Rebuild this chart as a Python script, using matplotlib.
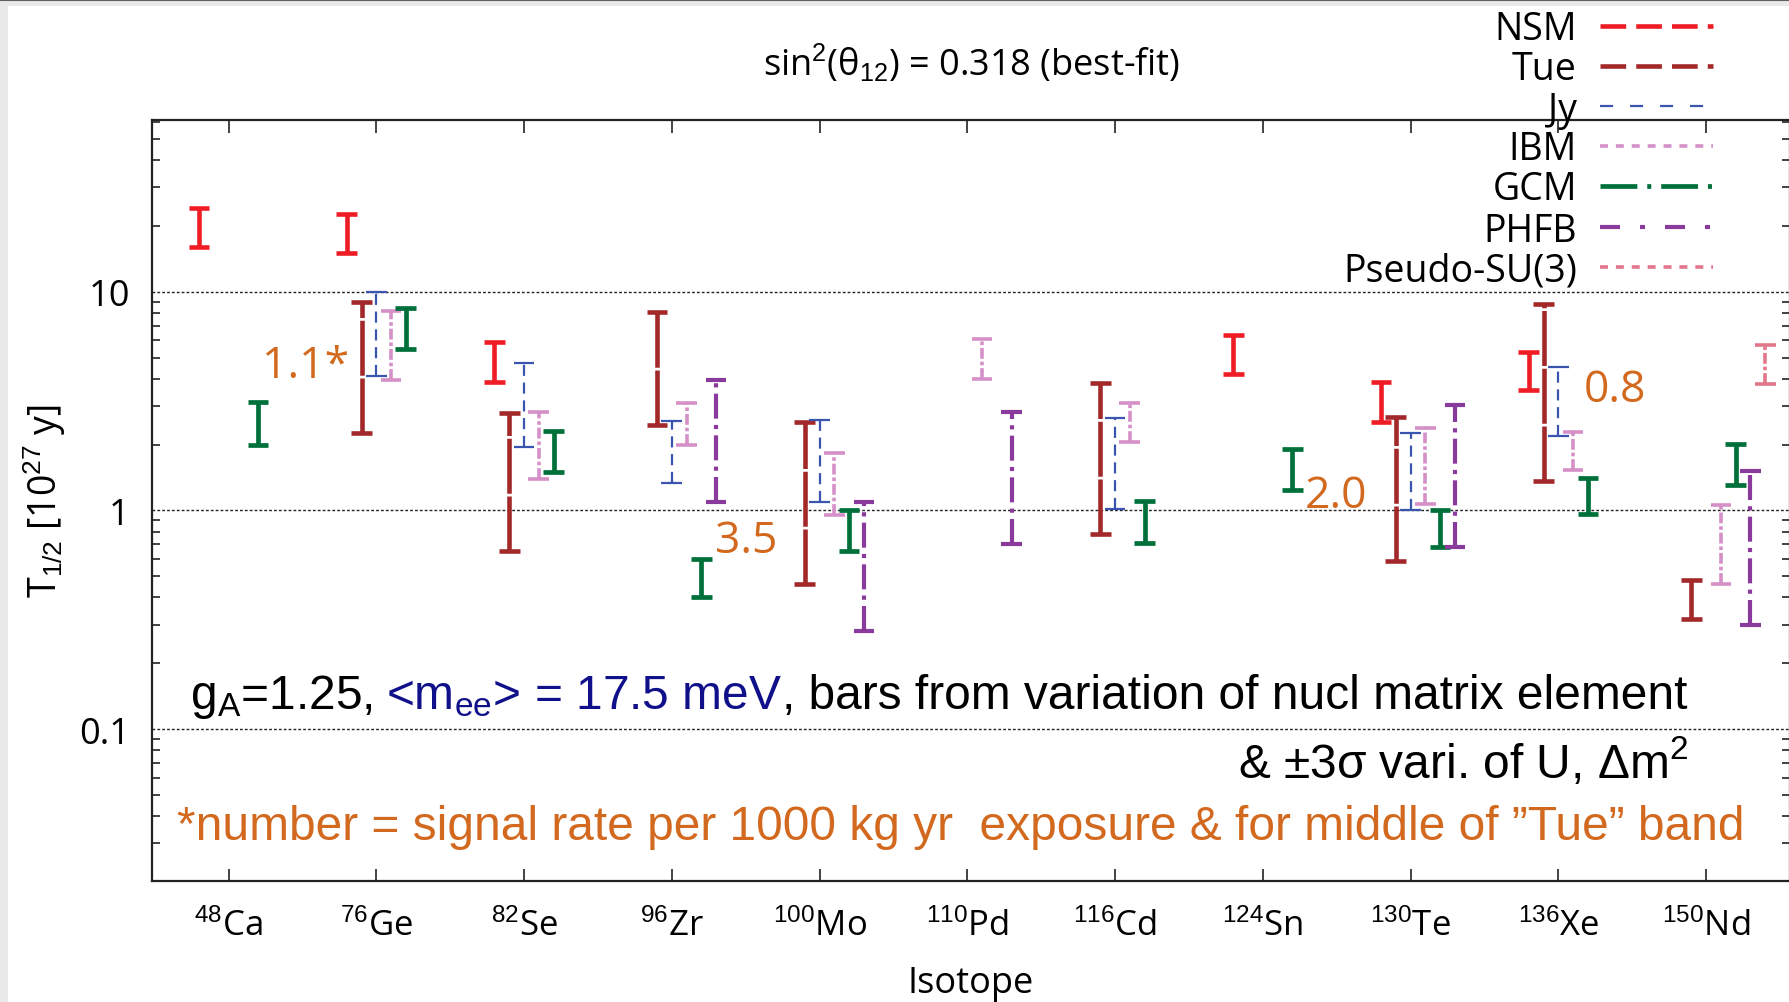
import numpy as np
import matplotlib.pyplot as plt
from matplotlib.lines import Line2D
from matplotlib.patches import Rectangle

plt.rcParams['font.family'] = ['Open Sans', 'DejaVu Sans']
plt.rcParams['mathtext.fontset'] = 'custom'
plt.rcParams['mathtext.rm'] = 'Liberation Sans'
plt.rcParams['mathtext.it'] = 'Liberation Sans'
plt.rcParams['mathtext.bf'] = 'Liberation Sans:bold'

nan = np.nan
isotopes = ['$^{48}$Ca', '$^{76}$Ge', '$^{82}$Se', '$^{96}$Zr', '$^{100}$Mo', '$^{110}$Pd',
            '$^{116}$Cd', '$^{124}$Sn', '$^{130}$Te', '$^{136}$Xe', '$^{150}$Nd']

# half-life ranges, 10^27 y (low, high) per isotope
nsm_lo = [16.0, 15.0, 3.85, nan, nan, nan, nan, 4.2, 2.54, 3.55, nan]
nsm_hi = [24.2, 22.6, 5.9, nan, nan, nan, nan, 6.33, 3.87, 5.31, nan]
tue_lo = [nan, 2.25, 0.65, 2.45, 0.46, nan, 0.78, nan, 0.59, 1.36, 0.32]
tue_hi = [nan, 9.0, 2.78, 8.1, 2.53, nan, 3.81, nan, 2.68, 8.75, 0.48]
jy_lo = [nan, 4.1, 1.96, 1.34, 1.09, nan, 1.02, nan, 1.0, 2.19, nan]
jy_hi = [nan, 10.0, 4.7, 2.57, 2.6, nan, 2.66, nan, 2.25, 4.51, nan]
ibm_lo = [nan, 3.94, 1.39, 2.0, 0.95, 4.0, 2.06, nan, 1.07, 1.53, 0.46]
ibm_hi = [nan, 8.2, 2.82, 3.1, 1.83, 6.07, 3.09, nan, 2.37, 2.29, 1.06]
gcm_lo = [2.0, 5.5, 1.5, 0.40, 0.65, nan, 0.71, 1.24, 0.68, 0.96, 1.31]
gcm_hi = [3.14, 8.4, 2.3, 0.60, 1.0, nan, 1.1, 1.91, 1.0, 1.40, 2.01]
phfb_lo = [nan, nan, nan, 1.09, 0.28, 0.70, nan, nan, 0.68, nan, 0.30]
phfb_hi = [nan, nan, nan, 3.94, 1.09, 2.82, nan, nan, 3.03, nan, 1.52]
psu3_lo = [nan, nan, nan, nan, nan, nan, nan, nan, nan, nan, 3.78]
psu3_hi = [nan, nan, nan, nan, nan, nan, nan, nan, nan, nan, 5.7]

# signal rates printed next to the Tue bands
rate_labels = ['1.1*', '3.5', '2.0', '0.8']
rate_x = [1.227, 4.29, 8.286, 10.174]
rate_y = [4.07, 0.645, 1.035, 3.17]

models = [
    # name, lo, hi, offset, color, lw, bar dashes, legend dashes
    ('NSM', nsm_lo, nsm_hi, -0.2, '#ee1c25', 3.3, (0, (12, 0.6)), (0, (5.6, 2.2))),
    ('Tue', tue_lo, tue_hi, -0.1, '#a3282a', 3.3, (0, (12, 0.6)), (0, (5.6, 2.2))),
    ('Jy', jy_lo, jy_hi, 0.0, '#3a55b0', 1.6, (0, (5, 3)), (0, (5.9, 7.6))),
    ('IBM', ibm_lo, ibm_hi, 0.1, '#d690c8', 2.6, (0, (3, 0.8, 1, 0.8)), (0, (2.2, 2.2))),
    ('GCM', gcm_lo, gcm_hi, 0.2, '#00703a', 3.4, '-', (0, (7.8, 2.1, 0.85, 2.1))),
    ('PHFB', phfb_lo, phfb_hi, 0.3, '#8a3a9c', 3.0, (0, (6, 1.5, 1, 1.5)), (0, (4.8, 4.8, 1.2, 4.8))),
    ('Pseudo-SU(3)', psu3_lo, psu3_hi, 0.4, '#e2768a', 2.6, (0, (3, 0.8, 1, 0.8)), (0, (2.2, 2.2))),
]

fig = plt.figure(figsize=(17.9, 10.03), dpi=100)
fig.patch.set_facecolor('#e9e9e9')
fig.add_artist(Rectangle((8 / 1790, 0), 1, (1003 - 7) / 1003, transform=fig.transFigure,
                         facecolor='white', edgecolor='none', zorder=0))
fig.add_artist(Line2D([0, 1], [0.999, 0.999], transform=fig.transFigure, color='#606060', lw=1.5))

ax = fig.add_axes([152 / 1790, (1003 - 882) / 1003, 1 - 152 / 1790, 761 / 1003])
ax.set_yscale('log')
ax.set_xlim(0.482, 11.568)
ax.set_ylim(0.0202, 61)

x = np.arange(1, len(isotopes) + 1)
cap = 0.07
for name, lo, hi, off, col, lw, ls, _ in models:
    lo = np.array(lo)
    hi = np.array(hi)
    ok = ~np.isnan(lo)
    xx = x[ok] + off
    ax.vlines(xx, lo[ok], hi[ok], colors=col, linestyles=[ls], lw=lw, zorder=3)
    ax.hlines(lo[ok], xx - cap, xx + cap, colors=col, lw=lw, zorder=3)
    ax.hlines(hi[ok], xx - cap, xx + cap, colors=col, lw=lw, zorder=3)

for g in [0.1, 1, 10]:
    ax.axhline(g, color='#222222', lw=1.0, ls=(0, (2, 1.5)), zorder=1)

ax.set_xticks(x)
ax.set_xticklabels(isotopes, fontsize=25)
ax.set_yticks([0.1, 1, 10])
ax.set_yticklabels(['0.1', '1', '10'], fontsize=26)
ax.tick_params(which='both', direction='in', top=True, right=True, color='#222222')
ax.tick_params(axis='x', which='major', length=9, width=1.2, pad=20)
ax.tick_params(axis='y', which='major', length=0, pad=16)
ax.tick_params(axis='y', which='minor', length=6, width=1.2)
ax.tick_params(axis='x', which='minor', bottom=False, top=False)
for s in ax.spines.values():
    s.set_linewidth(1.6)
    s.set_color('#222222')

ax.set_xlabel('Isotope', fontsize=26, labelpad=16)
ax.set_ylabel('T$_{1/2}$ [10$^{27}$ y]', fontsize=27, labelpad=8)

for s, xv, yv in zip(rate_labels, rate_x, rate_y):
    ax.text(xv, yv, s, color='#d2691e', fontsize=32, va='baseline', ha='left', zorder=4)

# explanatory text, three lines, pieces placed one after another
big = dict(family=['Liberation Sans', 'DejaVu Sans'], fontsize=34.5, va='baseline',
           transform=ax.transAxes)
pieces = [('g$_\\mathrm{A}$=1.25,', 'black'),
          ('<m$_\\mathrm{ee}$> = 17.5 meV', '#10108a'),
          (', bars from variation of nucl matrix element', 'black')]
gaps = [0.0075, 0.0, 0.0]
fig.canvas.draw()
xpos = 0.0235
for (s, c), gp in zip(pieces, gaps):
    t = ax.text(xpos, 0.2273, s, color=c, **big)
    fig.canvas.draw()
    bb = t.get_window_extent()
    xpos = ax.transAxes.inverted().transform((bb.x1, bb.y0))[0] + gp
ax.text(0.9377, 0.1367, '& ±3σ vari. of U, Δm$^2$', color='black', ha='right', **big)
ax.text(0.0153, 0.0552, '*number = signal rate per 1000 kg yr  exposure & for middle of \u201dTue\u201d band',
        color='#d2691e', ha='left', **big)

fig.text(972 / 1790, 1 - 76 / 1003, 'sin$^2$(θ$_{12}$) = 0.318 (best-fit)', fontsize=26,
         ha='center', va='baseline')

# legend in the upper right corner, label then line sample
row_y = [27, 67, 107, 147, 187, 228, 268]
for (name, lo, hi, off, col, lw, ls, lls), ry in zip(models, row_y):
    fy = 1 - ry / 1003
    fig.text(1577 / 1790, fy - 13.5 / 1003, name, fontsize=27, ha='right', va='baseline', zorder=5)
    fig.add_artist(Line2D([1600 / 1790, 1713 / 1790], [fy, fy], transform=fig.transFigure,
                          color=col, lw=lw, ls=lls, zorder=5))

plt.savefig('out.png', dpi=100, facecolor=fig.get_facecolor())
